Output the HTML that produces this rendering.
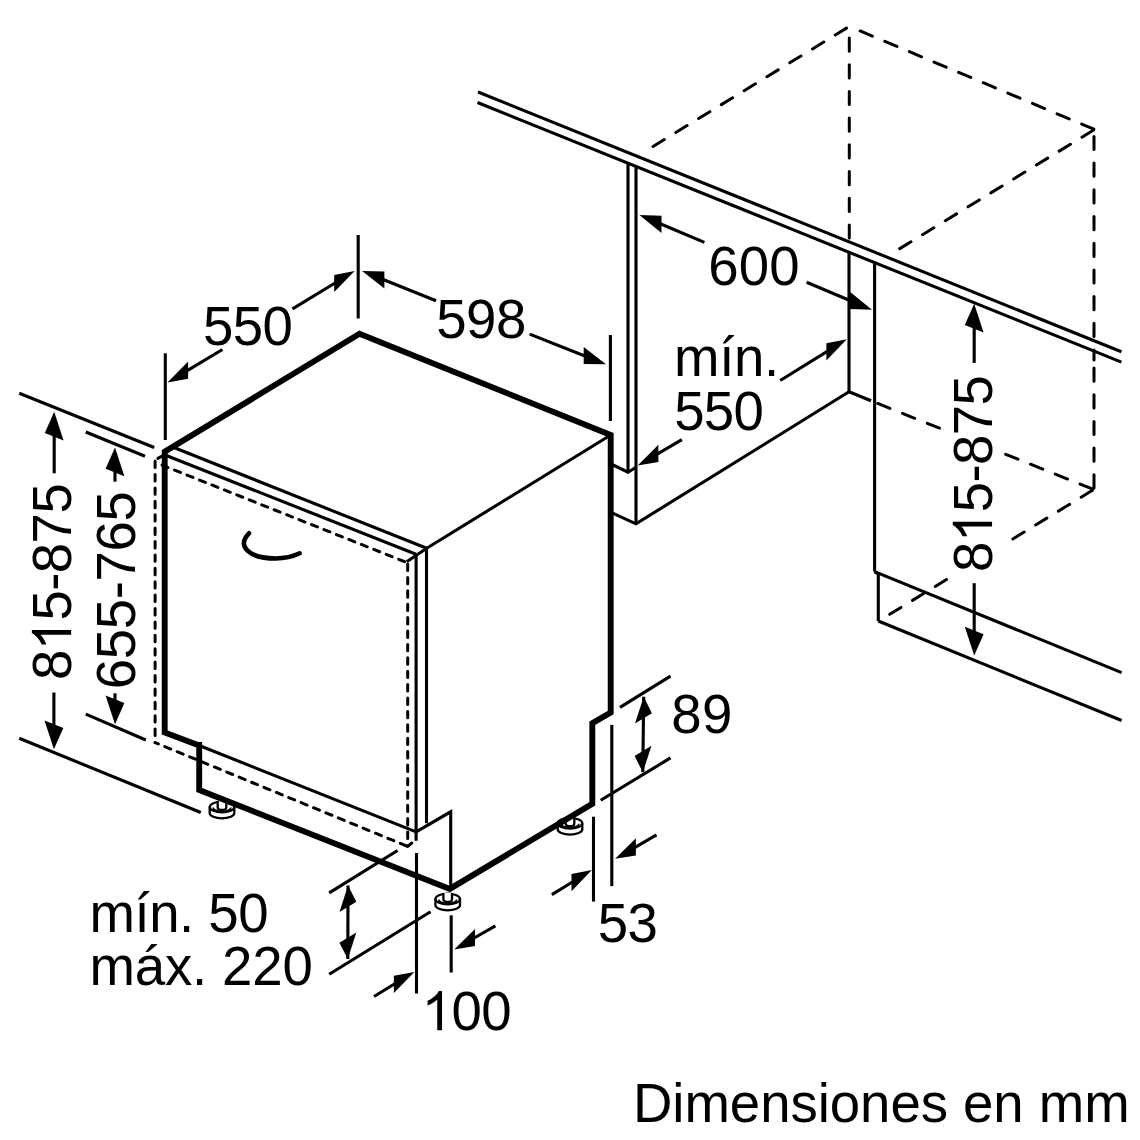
<!DOCTYPE html>
<html><head><meta charset="utf-8"><style>
html,body{margin:0;padding:0;background:#fff;width:1140px;height:1140px;overflow:hidden}
svg{display:block}
text{font-family:"Liberation Sans",sans-serif;font-size:54.6px;fill:#000;stroke:none;font-kerning:none}
</style></head><body>
<svg width="1140" height="1140" viewBox="0 0 1140 1140" stroke="#000" fill="none">
<line x1="478.0" y1="92.0" x2="1121.4" y2="351.8" stroke-width="3.1" stroke-linecap="butt"/>
<line x1="477.5" y1="102.5" x2="1121.4" y2="362.1" stroke-width="3.1" stroke-linecap="butt"/>
<line x1="628.0" y1="163.5" x2="628.0" y2="472.2" stroke-width="3.1" stroke-linecap="butt"/>
<line x1="636.0" y1="166.7" x2="636.0" y2="524.0" stroke-width="3.1" stroke-linecap="butt"/>
<polyline points="611.0,464.0 628.0,472.2 636.0,467.3" fill="none" stroke-width="3.1" stroke-linejoin="miter"/>
<polyline points="611.0,512.4 636.0,523.8 849.0,391.8" fill="none" stroke-width="3.1" stroke-linejoin="miter"/>
<line x1="849.3" y1="26.4" x2="1094.5" y2="129.5" stroke-width="3.0" stroke-dasharray="13.20 13.50" stroke-dashoffset="14.90" stroke-linecap="round"/>
<line x1="849.3" y1="26.4" x2="651.9" y2="147.1" stroke-width="3.0" stroke-dasharray="13.20 13.50" stroke-dashoffset="23.45" stroke-linecap="round"/>
<line x1="849.3" y1="26.4" x2="849.3" y2="242.0" stroke-width="3.0" stroke-dasharray="13.20 13.50" stroke-dashoffset="15.10" stroke-linecap="round"/>
<line x1="1094.5" y1="129.5" x2="898.8" y2="249.2" stroke-width="3.0" stroke-dasharray="13.20 13.50" stroke-dashoffset="25.20" stroke-linecap="round"/>
<line x1="1094.0" y1="129.5" x2="1094.0" y2="360.0" stroke-width="3.0" stroke-dasharray="13.20 13.50" stroke-dashoffset="19.80" stroke-linecap="round"/>
<line x1="1094.0" y1="489.5" x2="1094.0" y2="360.0" stroke-width="3.0" stroke-dasharray="13.20 13.50" stroke-dashoffset="25.20" stroke-linecap="round"/>
<line x1="849.0" y1="252.0" x2="849.0" y2="392.0" stroke-width="3.1" stroke-linecap="butt"/>
<line x1="874.6" y1="262.5" x2="874.6" y2="571.6" stroke-width="3.1" stroke-linecap="butt"/>
<line x1="849.0" y1="391.8" x2="871.0" y2="400.7" stroke-width="3.1" stroke-linecap="butt"/>
<line x1="876.3" y1="402.9" x2="950.0" y2="432.4" stroke-width="3.0" stroke-dasharray="13.20 13.50" stroke-dashoffset="25.20" stroke-linecap="round"/>
<line x1="1093.7" y1="489.5" x2="995.0" y2="450.0" stroke-width="3.0" stroke-dasharray="13.20 13.50" stroke-dashoffset="25.20" stroke-linecap="round"/>
<line x1="1093.7" y1="489.5" x2="1000.0" y2="546.8" stroke-width="3.0" stroke-dasharray="13.20 13.50" stroke-dashoffset="25.20" stroke-linecap="round"/>
<line x1="888.4" y1="615.1" x2="950.0" y2="577.4" stroke-width="3.0" stroke-dasharray="13.20 13.50" stroke-dashoffset="25.20" stroke-linecap="round"/>
<polyline points="874.6,571.6 878.3,574.0" fill="none" stroke-width="3.1" stroke-linejoin="miter"/>
<line x1="874.6" y1="571.6" x2="1121.6" y2="672.6" stroke-width="3.1" stroke-linecap="butt"/>
<line x1="878.3" y1="573.5" x2="878.3" y2="621.0" stroke-width="3.1" stroke-linecap="butt"/>
<line x1="878.3" y1="621.0" x2="1121.6" y2="720.5" stroke-width="3.1" stroke-linecap="butt"/>
<g stroke-width="2.3" fill="#fff"><path d="M435.4,899.0 L435.4,905.0 A12.3,5.3 0 0 0 460.0,905.0 L460.0,899.0"/><ellipse cx="447.7" cy="899.0" rx="12.3" ry="5.3"/><path d="M438.7,899.5 A9,3.8 0 0 0 456.7,899.5" fill="none" stroke-width="1.6"/><path d="M443.4,893.0 L443.4,899.5 A4.3,2.4 0 0 0 452.0,899.5 L452.0,893.0"/></g>
<g stroke-width="2.3" fill="#fff"><path d="M209.7,807.0 L209.7,813.0 A12.3,5.3 0 0 0 234.3,813.0 L234.3,807.0"/><ellipse cx="222.0" cy="807.0" rx="12.3" ry="5.3"/><path d="M213.0,807.5 A9,3.8 0 0 0 231.0,807.5" fill="none" stroke-width="1.6"/><path d="M217.7,801.0 L217.7,807.5 A4.3,2.4 0 0 0 226.3,807.5 L226.3,801.0"/></g>
<g stroke-width="2.3" fill="#fff"><path d="M557.7,823.3 L557.7,829.3 A12.3,5.3 0 0 0 582.3,829.3 L582.3,823.3"/><ellipse cx="570.0" cy="823.3" rx="12.3" ry="5.3"/><path d="M561.0,823.8 A9,3.8 0 0 0 579.0,823.8" fill="none" stroke-width="1.6"/><path d="M565.7,817.3 L565.7,823.8 A4.3,2.4 0 0 0 574.3,823.8 L574.3,817.3"/></g>
<polyline points="199.2,745.5 164.7,732.5 164.7,451.7 359.5,333.8 610.7,435.0 610.7,712.6 592.3,723.2 592.3,803.9 449.8,888.9 199.2,790.0 199.2,742.0" fill="none" stroke-width="5.9" stroke-linejoin="miter"/>
<line x1="199.2" y1="745.5" x2="416.1" y2="831.9" stroke-width="3.1" stroke-linecap="butt"/>
<line x1="172.0" y1="446.8" x2="426.7" y2="548.3" stroke-width="3.1" stroke-linecap="butt"/>
<line x1="165.0" y1="455.0" x2="416.0" y2="554.2" stroke-width="3.1" stroke-linecap="butt"/>
<line x1="160.7" y1="464.6" x2="406.7" y2="562.5" stroke-width="3.0" stroke-dasharray="6.40 7.00" stroke-dashoffset="11.90" stroke-linecap="round"/>
<line x1="426.7" y1="548.3" x2="610.7" y2="435.0" stroke-width="3.1" stroke-linecap="butt"/>
<polyline points="426.7,548.3 406.7,561.7" fill="none" stroke-width="3.1" stroke-linejoin="miter"/>
<line x1="426.5" y1="548.3" x2="426.5" y2="823.2" stroke-width="3.1" stroke-linecap="butt"/>
<line x1="416.1" y1="554.2" x2="416.1" y2="840.7" stroke-width="3.1" stroke-linecap="butt"/>
<line x1="407.7" y1="562.5" x2="407.7" y2="846.0" stroke-width="3.0" stroke-dasharray="6.40 7.00" stroke-dashoffset="11.90" stroke-linecap="round"/>
<line x1="155.1" y1="459.6" x2="155.1" y2="742.6" stroke-width="3.0" stroke-dasharray="6.40 7.00" stroke-dashoffset="11.90" stroke-linecap="round"/>
<line x1="407.6" y1="846.4" x2="155.1" y2="742.6" stroke-width="3.0" stroke-dasharray="6.40 7.00" stroke-dashoffset="11.90" stroke-linecap="round"/>
<line x1="407.6" y1="846.4" x2="411.8" y2="843.0" stroke-width="3" stroke-linecap="round"/>
<line x1="157.9" y1="458.4" x2="162.2" y2="456.0" stroke-width="3" stroke-linecap="round"/>
<polyline points="416.1,831.9 450.7,811.8 450.7,888.1" fill="none" stroke-width="3.1" stroke-linejoin="miter"/>
<path d="M249,533.3 C236,546 249,558.5 275.7,558.5 C286,558.4 294,556 299.6,553.3" fill="none" stroke-width="4.6" stroke-linecap="round"/>
<line x1="358.2" y1="235.0" x2="358.2" y2="318.5" stroke-width="3.1" stroke-linecap="butt"/>
<line x1="165.3" y1="353.3" x2="165.3" y2="440.0" stroke-width="3.1" stroke-linecap="butt"/>
<line x1="610.4" y1="335.0" x2="610.4" y2="421.0" stroke-width="3.1" stroke-linecap="butt"/>
<line x1="19.2" y1="393.3" x2="154.2" y2="447.5" stroke-width="3.1" stroke-linecap="butt"/>
<line x1="85.8" y1="432.0" x2="145.0" y2="456.3" stroke-width="3.1" stroke-linecap="butt"/>
<line x1="85.8" y1="714.2" x2="145.8" y2="740.0" stroke-width="3.1" stroke-linecap="butt"/>
<line x1="19.2" y1="738.3" x2="200.8" y2="812.5" stroke-width="3.1" stroke-linecap="butt"/>
<line x1="416.5" y1="853.0" x2="416.5" y2="993.5" stroke-width="3.1" stroke-linecap="butt"/>
<line x1="451.2" y1="915.3" x2="451.2" y2="972.5" stroke-width="3.1" stroke-linecap="butt"/>
<line x1="329.2" y1="892.9" x2="397.6" y2="850.5" stroke-width="3.1" stroke-linecap="butt"/>
<line x1="329.2" y1="974.2" x2="430.5" y2="911.7" stroke-width="3.1" stroke-linecap="butt"/>
<line x1="611.8" y1="724.9" x2="611.8" y2="886.1" stroke-width="3.1" stroke-linecap="butt"/>
<line x1="593.5" y1="816.7" x2="593.5" y2="901.6" stroke-width="3.1" stroke-linecap="butt"/>
<line x1="620.0" y1="707.4" x2="670.5" y2="676.1" stroke-width="3.1" stroke-linecap="butt"/>
<line x1="600.7" y1="800.3" x2="670.5" y2="757.9" stroke-width="3.1" stroke-linecap="butt"/>
<line x1="222.5" y1="349.5" x2="186.4" y2="371.2" stroke-width="3.1" stroke-linecap="butt"/>
<polygon points="167.5,382.5 188.1,378.8 188.1,361.6" fill="#000" stroke="none"/>
<line x1="292.5" y1="308.8" x2="335.9" y2="282.5" stroke-width="3.1" stroke-linecap="butt"/>
<polygon points="354.7,271.1 334.2,292.1 334.2,274.9" fill="#000" stroke="none"/>
<line x1="436.0" y1="300.7" x2="382.5" y2="279.3" stroke-width="3.1" stroke-linecap="butt"/>
<polygon points="362.1,271.1 384.4,288.6 384.4,271.4" fill="#000" stroke="none"/>
<line x1="529.7" y1="334.1" x2="585.5" y2="356.2" stroke-width="3.1" stroke-linecap="butt"/>
<polygon points="606.0,364.3 583.7,364.1 583.7,346.9" fill="#000" stroke="none"/>
<line x1="704.4" y1="242.4" x2="659.7" y2="223.5" stroke-width="3.1" stroke-linecap="butt"/>
<polygon points="639.4,215.0 661.5,232.9 661.5,215.7" fill="#000" stroke="none"/>
<line x1="806.6" y1="282.3" x2="851.7" y2="301.2" stroke-width="3.1" stroke-linecap="butt"/>
<polygon points="872.0,309.7 849.9,309.0 849.9,291.8" fill="#000" stroke="none"/>
<line x1="780.2" y1="380.5" x2="828.1" y2="350.9" stroke-width="3.1" stroke-linecap="butt"/>
<polygon points="846.8,339.3 826.4,360.5 826.4,343.3" fill="#000" stroke="none"/>
<line x1="681.9" y1="439.6" x2="656.7" y2="454.3" stroke-width="3.1" stroke-linecap="butt"/>
<polygon points="637.7,465.4 658.4,461.9 658.4,444.7" fill="#000" stroke="none"/>
<line x1="974.2" y1="362.9" x2="974.2" y2="326.7" stroke-width="3.1" stroke-linecap="butt"/>
<polygon points="974.2,303.7 983.6,332.5 964.8,324.9" fill="#000" stroke="none"/>
<line x1="974.2" y1="583.2" x2="974.2" y2="632.5" stroke-width="3.1" stroke-linecap="butt"/>
<polygon points="974.2,655.5 983.6,634.3 964.8,626.7" fill="#000" stroke="none"/>
<line x1="54.2" y1="473.3" x2="54.2" y2="434.7" stroke-width="3.1" stroke-linecap="butt"/>
<polygon points="54.2,411.7 63.6,440.5 44.8,432.9" fill="#000" stroke="none"/>
<line x1="53.9" y1="692.5" x2="53.9" y2="726.2" stroke-width="3.1" stroke-linecap="butt"/>
<polygon points="53.9,749.2 63.3,728.0 44.5,720.4" fill="#000" stroke="none"/>
<line x1="115.0" y1="481.7" x2="115.0" y2="470.5" stroke-width="3.1" stroke-linecap="butt"/>
<polygon points="115.0,447.5 124.4,476.3 105.6,468.7" fill="#000" stroke="none"/>
<line x1="115.0" y1="693.3" x2="115.0" y2="701.2" stroke-width="3.1" stroke-linecap="butt"/>
<polygon points="115.0,724.2 124.4,703.0 105.6,695.4" fill="#000" stroke="none"/>
<line x1="643.7" y1="696.8" x2="642.8" y2="772.3" stroke-width="3.1" stroke-linecap="butt"/>
<polygon points="643.7,696.8 651.9,713.2 635.0,723.4" fill="#000" stroke="none"/>
<polygon points="642.8,772.3 651.5,745.7 634.6,755.9" fill="#000" stroke="none"/>
<line x1="348.0" y1="885.4" x2="347.8" y2="959.1" stroke-width="3.1" stroke-linecap="butt"/>
<polygon points="348.0,885.4 356.4,901.8 339.5,912.0" fill="#000" stroke="none"/>
<polygon points="347.8,959.1 356.3,932.5 339.4,942.7" fill="#000" stroke="none"/>
<line x1="551.9" y1="894.6" x2="573.2" y2="881.5" stroke-width="3.1" stroke-linecap="butt"/>
<polygon points="591.9,870.0 571.5,891.2 571.5,874.0" fill="#000" stroke="none"/>
<line x1="656.5" y1="834.9" x2="634.2" y2="847.8" stroke-width="3.1" stroke-linecap="butt"/>
<polygon points="615.1,858.8 635.9,855.4 635.9,838.2" fill="#000" stroke="none"/>
<line x1="374.0" y1="996.5" x2="395.6" y2="983.3" stroke-width="3.1" stroke-linecap="butt"/>
<polygon points="414.4,971.9 393.9,993.0 393.9,975.8" fill="#000" stroke="none"/>
<line x1="495.4" y1="925.8" x2="473.3" y2="938.5" stroke-width="3.1" stroke-linecap="butt"/>
<polygon points="454.2,949.5 475.0,946.1 475.0,928.9" fill="#000" stroke="none"/>
<rect x="943" y="372" width="60" height="206" fill="#fff" stroke="none"/>
<g transform="translate(202.98,344.76) scale(1,1.03)"><text x="0.00 29.73 59.45" y="0">550</text></g>
<g transform="translate(436.16,338.12) scale(1,1.03)"><text x="0.00 29.89 59.77" y="0">598</text></g>
<g transform="translate(708.36,284.58) scale(1,1.03)"><text x="0.00 30.49 60.97" y="0">600</text></g>
<g transform="translate(674.10,375.94) scale(1,1.03)"><text x="0.00 45.08 59.85 89.82" y="0">mín.</text></g>
<g transform="translate(674.26,429.58) scale(1,1.03)"><text x="0.00 29.61 59.21" y="0">550</text></g>
<g transform="translate(992.04,571.90) rotate(-90) scale(1,1.03)"><text x="0.00" y="0">8</text><path transform="translate(29.78,0) scale(0.02666,-0.02591)" d="M763,0H583V1147Q518,1085 412,1023Q306,961 221,930V1104Q372,1175 485,1276Q598,1377 645,1472H763Z" fill="#000" stroke="none"/><text x="59.56 89.34 106.93 136.71 166.49" y="0">5-875</text></g>
<g transform="translate(71.14,680.08) rotate(-90) scale(1,1.03)"><text x="0.00" y="0">8</text><path transform="translate(29.78,0) scale(0.02666,-0.02591)" d="M763,0H583V1147Q518,1085 412,1023Q306,961 221,930V1104Q372,1175 485,1276Q598,1377 645,1472H763Z" fill="#000" stroke="none"/><text x="59.56 89.34 106.93 136.71 166.49" y="0">5-875</text></g>
<g transform="translate(134.68,689.16) rotate(-90) scale(1,1.03)"><text x="0.00 29.99 59.99 89.98 107.79 137.78 167.77" y="0">655-765</text></g>
<g transform="translate(671.26,733.22) scale(1,1.03)"><text x="0.00 30.69" y="0">89</text></g>
<g transform="translate(597.72,942.04) scale(1,1.03)"><text x="0.00 29.89" y="0">53</text></g>
<g transform="translate(89.56,931.58) scale(1,1.03)"><text x="0.00 44.96 59.61 89.46 104.11 118.76 148.60" y="0">mín.&#160;50</text></g>
<g transform="translate(89.56,984.76) scale(1,1.03)"><text x="0.00 45.29 75.46 102.57 117.54 132.52 162.69 192.86" y="0">máx.&#160;220</text></g>
<g transform="translate(421.70,1030.22) scale(1,1.03)"><path transform="translate(0.00,0) scale(0.02666,-0.02591)" d="M763,0H583V1147Q518,1085 412,1023Q306,961 221,930V1104Q372,1175 485,1276Q598,1377 645,1472H763Z" fill="#000" stroke="none"/><text x="29.81 59.61" y="0">00</text></g>
<g transform="translate(632.94,1121.58) scale(1,1.03)"><text x="0.00 39.38 51.45 96.88 127.19 157.50 184.74 196.82 227.13 257.44 287.75 315.00 330.11 360.42 390.73 405.85 451.28" y="0">Dimensiones&#160;en&#160;mm</text></g>
</svg></body></html>
